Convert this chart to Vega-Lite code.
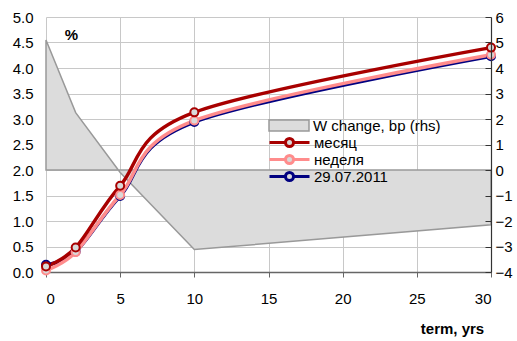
{
  "$schema": "https://vega.github.io/schema/vega-lite/v6.json",
  "width": 445,
  "height": 255,
  "autosize": {"type": "none"},
  "padding": {"left": 46, "top": 17, "right": 26, "bottom": 69},
  "background": "white",
  "config": {
    "view": {"stroke": null},
    "font": "Liberation Sans",
    "axis": {"labelFont": "Liberation Sans", "labelFontSize": 15, "labelColor": "#000000", "gridColor": "#C8C8C8", "gridWidth": 1, "titleFont": "Liberation Sans", "titleColor": "#000000"},
    "legend": {
      "orient": "none", "padding": 0,
      "labelFont": "Liberation Sans", "labelFontSize": 15, "labelColor": "#000000", "labelOffset": 3,
      "clipHeight": 17, "rowPadding": 0, "symbolSize": 1600, "symbolOpacity": 1
    }
  },
  "datasets": {
    "w": [
      {"term": 0, "series": "W change, bp (rhs)", "bp": 5.1},
      {"term": 2, "series": "W change, bp (rhs)", "bp": 2.25},
      {"term": 5, "series": "W change, bp (rhs)", "bp": -0.1},
      {"term": 10, "series": "W change, bp (rhs)", "bp": -3.12},
      {"term": 30, "series": "W change, bp (rhs)", "bp": -2.15}
    ],
    "curves": [
      {"term": 0, "series": "29.07.2011", "value": 0.14},
      {"term": 2, "series": "29.07.2011", "value": 0.40},
      {"term": 5, "series": "29.07.2011", "value": 1.49},
      {"term": 10, "series": "29.07.2011", "value": 2.94},
      {"term": 30, "series": "29.07.2011", "value": 4.23},
      {"term": 0, "series": "неделя", "value": 0.03},
      {"term": 2, "series": "неделя", "value": 0.39},
      {"term": 5, "series": "неделя", "value": 1.51},
      {"term": 10, "series": "неделя", "value": 2.97},
      {"term": 30, "series": "неделя", "value": 4.26},
      {"term": 0, "series": "месяц", "value": 0.11},
      {"term": 2, "series": "месяц", "value": 0.48},
      {"term": 5, "series": "месяц", "value": 1.69},
      {"term": 10, "series": "месяц", "value": 3.13},
      {"term": 30, "series": "месяц", "value": 4.40}
    ]
  },
  "layer": [
    {
      "data": {"name": "w"},
      "mark": {"type": "area", "stroke": "#999999", "strokeWidth": 1.5, "fillOpacity": 1},
      "encoding": {
        "x": {"field": "term", "type": "quantitative", "scale": {"domain": [0, 30], "nice": false},
          "axis": {"values": [0, 5, 10, 15, 20, 25, 30], "grid": true, "domainColor": "#666666", "domainWidth": 1.5, "tickColor": "#666666", "tickSize": 5, "labelPadding": 14,
            "title": "term, yrs", "titleFontWeight": "bold", "titleFontSize": 15, "titleX": 406, "titleY": 56, "titleAlign": "center", "titleBaseline": "middle"}},
        "y": {"field": "bp", "type": "quantitative", "scale": {"domain": [-4, 6], "nice": false, "zero": true},
          "axis": {"orient": "right", "values": [-4, -3, -2, -1, 0, 1, 2, 3, 4, 5, 6], "grid": false, "domain": true, "domainColor": "#333333", "domainWidth": 1.2, "tickColor": "#333333", "tickSize": -6, "labelPadding": 10, "title": null, "zindex": 1}},
        "fill": {"field": "series", "type": "nominal",
          "scale": {"domain": ["W change, bp (rhs)"], "range": ["#DCDCDC"]},
          "legend": {"title": null, "legendX": 222, "legendY": 100,
            "symbolType": "M-1,-0.27H1V0.27H-1Z", "symbolStrokeColor": "#999999", "symbolStrokeWidth": 1.5, "symbolFillColor": "#DCDCDC"}}
      }
    },
    {
      "data": {"name": "curves"},
      "encoding": {
        "x": {"field": "term", "type": "quantitative", "scale": {"domain": [0, 30], "nice": false}},
        "y": {"field": "value", "type": "quantitative", "scale": {"domain": [0, 5], "nice": false},
          "axis": {"orient": "left", "values": [0, 0.5, 1, 1.5, 2, 2.5, 3, 3.5, 4, 4.5, 5], "format": ".1f", "grid": true, "domain": false, "ticks": false, "labelPadding": 13,
            "title": "%", "titleAngle": 0, "titleX": 25, "titleY": 17, "titleFontWeight": "bold", "titleFontSize": 15, "titleAlign": "center", "titleBaseline": "middle"}},
        "stroke": {"field": "series", "type": "nominal",
          "scale": {"domain": ["месяц", "неделя", "29.07.2011"], "range": ["#A80000", "#FF8C8C", "#000080"]},
          "legend": {"title": null, "legendX": 222, "legendY": 117,
            "symbolType": "M-1,0H-0.2M0.2,0H1M-0.2,0A0.2,0.2 0 1,1 0.2,0A0.2,0.2 0 1,1 -0.2,0", "symbolFillColor": "#D9D9D9", "symbolStrokeWidth": 3}}
      },
      "layer": [
        {"mark": {"type": "line", "interpolate": "cardinal", "strokeWidth": 3.5}},
        {"mark": {"type": "point", "shape": "circle", "size": 64, "filled": false, "fill": "#D9D9D9", "fillOpacity": 1, "strokeWidth": 2, "opacity": 1}}
      ]
    }
  ],
  "resolve": {"scale": {"y": "independent"}}
}
